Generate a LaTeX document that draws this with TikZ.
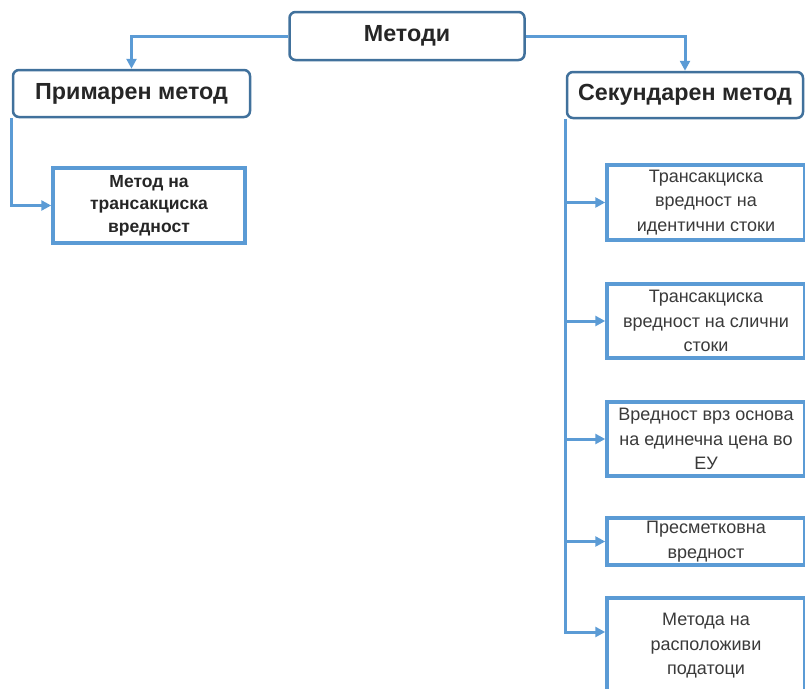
\documentclass[tikz,border=0pt]{standalone}
\usepackage{fontspec}
\setmainfont{Liberation Sans}
\usetikzlibrary{arrows.meta}
\definecolor{boxblue}{HTML}{41719C}
\definecolor{lineblue}{HTML}{5B9BD5}
\definecolor{inkgray}{HTML}{3A3A3A}
\begin{document}
\begin{tikzpicture}[x=1pt,y=-1pt,
  topbox/.style={draw=boxblue,line width=2.5pt,rounded corners=6pt,fill=white,
    font=\fontsize{23.3}{27}\selectfont\bfseries,text=black!85,align=center},
  subbox/.style={draw=lineblue,line width=3.5pt,fill=white,align=center,
    font=\fontsize{18}{24.5}\selectfont,text=inkgray},
  conn/.style={draw=lineblue,line width=3pt,-{Triangle[length=10pt,width=10pt]}}]
\useasboundingbox (0,0) rectangle (805,688);
% top level
\node[topbox,minimum width=235pt,minimum height=48pt] (metodi) at (407,36) {Методи};
\node[topbox,minimum width=237pt,minimum height=47pt] (primaren) at (131.5,93.5) {Примарен метод};
\node[topbox,minimum width=236pt,minimum height=46pt] (sekundaren) at (685,95) {Секундарен метод};
% primary method
\node[subbox,minimum width=192pt,minimum height=75pt,font=\fontsize{17.5}{22.5}\selectfont\bfseries,text=black!85] (transakciska) at (149,205.5) {Метод на\\трансакциска\\вредност};
% secondary methods
\node[subbox,minimum width=198pt,minimum height=75pt] (identicni) at (706,202.5) {Трансакциска\\вредност на\\идентични стоки};
\node[subbox,minimum width=198pt,minimum height=74pt] (slicni) at (706,321) {Трансакциска\\вредност на слични\\стоки};
\node[subbox,minimum width=198pt,minimum height=74pt] (edinecna) at (706,439) {Вредност врз основа\\на единечна цена во\\ЕУ};
\node[subbox,minimum width=198pt,minimum height=43pt] (presmetkovna) at (706,541.5) {Пресметковна\\вредност};
\node[subbox,minimum width=198pt,minimum height=96pt] (raspolozivi) at (706,646) {Метода на\\расположиви\\податоци};
% connectors
\path[conn] (metodi.west) -| (primaren.north);
\path[conn] (metodi.east) -| (sekundaren.north);
\path[conn] (primaren.south west) |- (transakciska.west);
\path[conn] (sekundaren.south west) |- (identicni.west);
\path[conn] (sekundaren.south west) |- (slicni.west);
\path[conn] (sekundaren.south west) |- (edinecna.west);
\path[conn] (sekundaren.south west) |- (presmetkovna.west);
\path[conn] (sekundaren.south west) |- ([yshift=14pt]raspolozivi.west);
\end{tikzpicture}
\end{document}
